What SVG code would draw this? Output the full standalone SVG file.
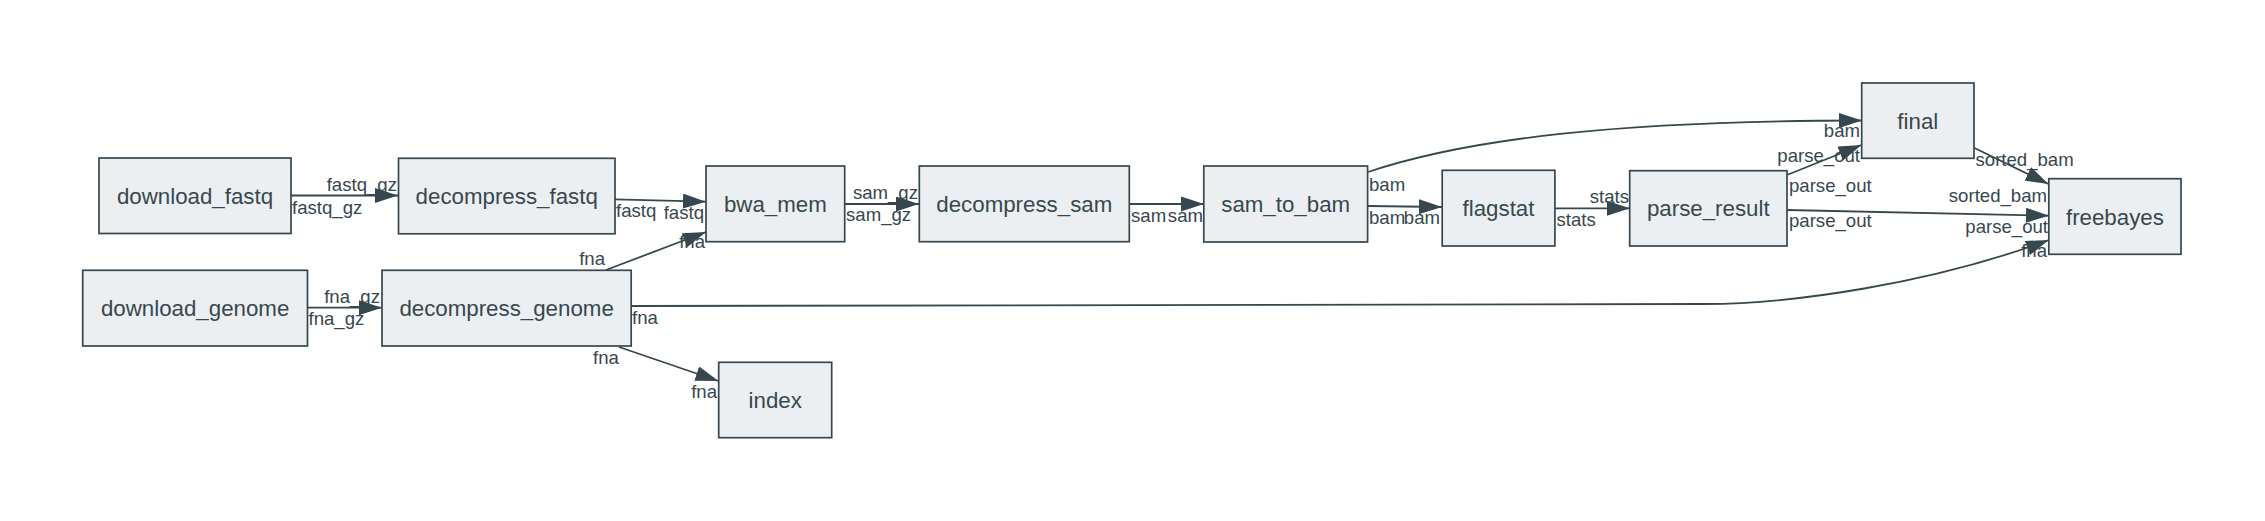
<svg xmlns="http://www.w3.org/2000/svg" width="2265" height="521" viewBox="0 0 2265 521">
<style>
  .node rect { fill: #ECEFF1; stroke: #37474F; stroke-width: 1.7; }
  .node text { font-family: "Liberation Sans", Arial, sans-serif; font-size: 22.3px; fill: #37474F; text-anchor: middle; }
  .edges path { fill: none; stroke: #37474F; stroke-width: 1.8; marker-end: url(#arrow); }
  .edges text { font-family: "Liberation Sans", Arial, sans-serif; font-size: 18.6px; fill: #37474F; }
  .e { text-anchor: end; }
</style>
<defs>
  <marker id="arrow" markerUnits="userSpaceOnUse" markerWidth="23" markerHeight="15" viewBox="0 0 23 15" refX="23" refY="7.5" orient="auto">
    <path d="M0,0 L23,7.5 L0,15 z" fill="#37474F"/>
  </marker>
</defs>
<rect width="2265" height="521" fill="#ffffff"/>

<g id="connectors" class="edges">
  <path d="M291,195.5 L398,195.5"/>
  <text class="e" x="397" y="191">fastq_gz</text>
  <text x="292" y="213.5">fastq_gz</text>

  <path d="M308,307.7 L382,307.7"/>
  <text class="e" x="380" y="303">fna_gz</text>
  <text x="308.5" y="324.5">fna_gz</text>

  <path d="M615,199.3 L706,201.7"/>
  <text x="616" y="216.5">fastq</text>
  <text class="e" x="704" y="218.5">fastq</text>

  <path d="M606,270 L706,232"/>
  <text class="e" x="605" y="265">fna</text>
  <text class="e" x="705" y="248">fna</text>

  <path d="M619,347 L718.5,381"/>
  <text x="593" y="364">fna</text>
  <text class="e" x="717" y="398">fna</text>

  <path d="M631,306 L1705,304 C1790,304 1930,284 2049,240"/>
  <text x="632" y="324">fna</text>
  <text class="e" x="2047" y="256.5">fna</text>

  <path d="M845,204 L919,204"/>
  <text class="e" x="918" y="199">sam_gz</text>
  <text x="846" y="220.5">sam_gz</text>

  <path d="M1129,204 L1204,204"/>
  <text x="1131" y="221.5">sam</text>
  <text class="e" x="1203" y="221.5">sam</text>

  <path d="M1368,172 C1470,138 1620,121 1862,120.5"/>
  <text x="1369" y="190.5">bam</text>
  <text class="e" x="1860" y="136.7">bam</text>

  <path d="M1368,206 L1442,207"/>
  <text x="1369" y="223.5">bam</text>
  <text class="e" x="1440" y="224">bam</text>

  <path d="M1555,208.3 L1630,208.3"/>
  <text class="e" x="1629" y="203.3">stats</text>
  <text x="1556.5" y="225.5">stats</text>

  <path d="M1787,175 L1861.5,145"/>
  <text class="e" x="1860" y="161.7">parse_out</text>
  <text x="1789" y="192.3">parse_out</text>

  <path d="M1787,210 L2049,215.7"/>
  <text x="1789" y="227.3">parse_out</text>
  <text class="e" x="2048" y="232.5">parse_out</text>

  <path d="M1974,147.7 L2048.5,184"/>
  <text x="1975.5" y="165.5">sorted_bam</text>
  <text class="e" x="2047" y="202.3">sorted_bam</text>
</g>

<g id="download_fastq" class="node"><rect x="99" y="158" width="192" height="75.5"/><text x="195" y="204">download_fastq</text></g>
<g id="decompress_fastq" class="node"><rect x="398.5" y="158.3" width="216.5" height="75.5"/><text x="506.7" y="204">decompress_fastq</text></g>
<g id="download_genome" class="node"><rect x="82.7" y="270.3" width="224.8" height="75.7"/><text x="195.1" y="316">download_genome</text></g>
<g id="decompress_genome" class="node"><rect x="382" y="270.3" width="249.2" height="75.7"/><text x="506.6" y="316">decompress_genome</text></g>
<g id="bwa_mem" class="node"><rect x="706" y="166" width="138.7" height="75.7"/><text x="775.4" y="212">bwa_mem</text></g>
<g id="index" class="node"><rect x="718.7" y="362.3" width="113" height="75.4"/><text x="775.2" y="408">index</text></g>
<g id="decompress_sam" class="node"><rect x="919.3" y="166" width="210" height="75.7"/><text x="1024.3" y="212">decompress_sam</text></g>
<g id="sam_to_bam" class="node"><rect x="1203.8" y="166" width="163.8" height="76"/><text x="1285.7" y="212">sam_to_bam</text></g>
<g id="flagstat" class="node"><rect x="1442.2" y="170.3" width="112.7" height="75.7"/><text x="1498.5" y="216">flagstat</text></g>
<g id="parse_result" class="node"><rect x="1629.7" y="170.7" width="157.3" height="75.3"/><text x="1708.3" y="216">parse_result</text></g>
<g id="final" class="node"><rect x="1861.7" y="83" width="112.3" height="75.3"/><text x="1917.8" y="128.5">final</text></g>
<g id="freebayes" class="node"><rect x="2048.8" y="178.7" width="132.2" height="75.6"/><text x="2114.9" y="224.5">freebayes</text></g>
</svg>
